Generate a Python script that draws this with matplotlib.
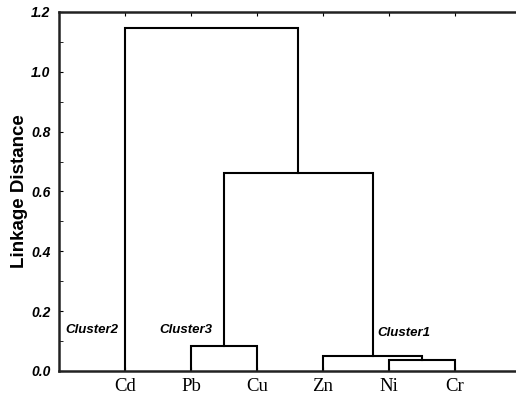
import matplotlib.pyplot as plt
from matplotlib.ticker import MultipleLocator

# leaves in plotting order
leaves = ['Cd', 'Pb', 'Cu', 'Zn', 'Ni', 'Cr']
# merges: (left node, right node, linkage distance); new nodes get ids 6, 7, ...
merges = [(4, 5, 0.037),
          (3, 6, 0.050),
          (1, 2, 0.084),
          (8, 7, 0.662),
          (0, 9, 1.146)]
cluster_names = ['Cluster2', 'Cluster3', 'Cluster1']
cluster_pos = [(0.10, 0.137), (1.52, 0.137), (4.82, 0.127)]

fig = plt.figure(figsize=(5.16, 3.95), dpi=100)
ax = fig.add_axes([0.1143, 0.0608, 0.8857, 0.9089])

# x and height of every node
xs = [i + 1 for i in range(len(leaves))]
hs = [0.0] * len(leaves)
for a, b, h in merges:
    ax.plot([xs[a], xs[a], xs[b], xs[b]], [hs[a], h, h, hs[b]],
            color='black', lw=1.5, solid_joinstyle='miter')
    xs.append((xs[a] + xs[b]) / 2)
    hs.append(h)

for name, (x, y) in zip(cluster_names, cluster_pos):
    ax.text(x, y, name, fontsize=9.5, style='italic', fontweight='bold',
            family='Liberation Sans', va='center', ha='left')

ax.set_xlim(0, 6.924)
ax.set_ylim(0, 1.2)
ax.set_xticks(range(1, len(leaves) + 1))
ax.set_xticklabels(leaves, family='Liberation Serif', fontsize=13.5)
ax.yaxis.set_major_locator(MultipleLocator(0.2))
ax.yaxis.set_minor_locator(MultipleLocator(0.1))
ax.set_yticklabels([f'{v:.1f}' for v in ax.get_yticks()])
for lab in ax.get_yticklabels():
    lab.set_family('Liberation Sans')
    lab.set_fontsize(10)
    lab.set_style('italic')
    lab.set_fontweight('bold')

ax.tick_params(axis='x', direction='in', top=True, bottom=True, length=3, pad=5)
ax.tick_params(axis='y', which='both', direction='in', length=3, pad=6)
ax.set_ylabel('Linkage Distance', family='Liberation Sans', fontsize=13.5,
              fontweight='bold', labelpad=2)

for s in ax.spines.values():
    s.set_linewidth(1.8)
    s.set_color('#222222')
ax.spines['right'].set_visible(False)

fig.savefig('out.png', dpi=100)
